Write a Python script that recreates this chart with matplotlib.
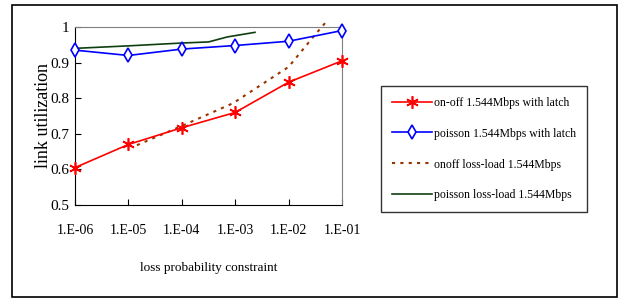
import matplotlib
matplotlib.use("Agg")
import matplotlib.pyplot as plt
from matplotlib.patches import Rectangle

# log10 of the loss probability constraint
tick_pos = [-6, -5, -4, -3, -2, -1]
tick_labels = ["1.E-06", "1.E-05", "1.E-04", "1.E-03", "1.E-02", "1.E-01"]

onoff_latch = [0.605, 0.670, 0.717, 0.760, 0.845, 0.905]
poisson_latch = [0.935, 0.920, 0.938, 0.948, 0.960, 0.990]

onoff_load_x = [-4.84, -4.0, -3.04, -2.0, -1.54, -1.3]
onoff_load_y = [0.668, 0.722, 0.786, 0.888, 0.972, 1.014]

poisson_load_x = [-6.0, -5.0, -4.0, -3.5, -3.15, -2.63]
poisson_load_y = [0.940, 0.947, 0.955, 0.958, 0.972, 0.985]

plt.rcParams["font.family"] = ["Liberation Serif", "DejaVu Serif"]

fig = plt.figure(figsize=(6.27, 3.0), dpi=100)
ax = fig.add_axes([0.1196, 0.3167, 0.4259, 0.5933])

ax.plot(tick_pos, onoff_latch, color="red", lw=1.2, marker=(6, 2, 0),
        ms=9, mew=1.2, clip_on=False, zorder=3,
        label="on-off 1.544Mbps with latch")
ax.plot(tick_pos, poisson_latch, color="blue", lw=1.2, marker="d",
        ms=7, mfc="white", mew=1.2, clip_on=False, zorder=3,
        label="poisson 1.544Mbps with latch")
ax.plot(onoff_load_x, onoff_load_y, color="#993300", lw=1.5,
        ls=(0, (1.5, 2.5)), clip_on=False, label="onoff loss-load 1.544Mbps")
ax.plot(poisson_load_x, poisson_load_y, color="#0f3f0f", lw=1.2,
        label="poisson loss-load 1.544Mbps")

ax.set_xlim(-6, -1)
ax.set_ylim(0.5, 1.0)
ax.set_xticks(tick_pos)
ax.set_xticklabels(tick_labels)
ax.set_yticks([0.5, 0.6, 0.7, 0.8, 0.9, 1.0])
ax.set_yticklabels(["0.5", "0.6", "0.7", "0.8", "0.9", "1"])
ax.tick_params(direction="in", length=4, labelsize=11, pad=4)
ax.tick_params(axis="x", pad=14, labelsize=10)
for side in ("top", "right"):
    ax.spines[side].set_color("#808080")
for side in ("left", "bottom"):
    ax.spines[side].set_color("black")

ax.set_ylabel("link utilization", fontsize=13, labelpad=-1)
ax.set_xlabel("loss probability constraint", fontsize=9.5, labelpad=18)

leg = fig.legend(loc="upper left", bbox_to_anchor=(0.608, 0.713),
                 fontsize=8.5, frameon=True, fancybox=False,
                 edgecolor="black", handlelength=3.4, labelspacing=1.6,
                 borderpad=0.9, handletextpad=0.2, borderaxespad=0)
leg.get_frame().set_linewidth(1.0)

fig.patches.append(Rectangle((12 / 627, 3 / 300), 605 / 627, 292 / 300,
                             transform=fig.transFigure, fill=False,
                             edgecolor="black", lw=1.2))

fig.savefig("out.png", dpi=100)
